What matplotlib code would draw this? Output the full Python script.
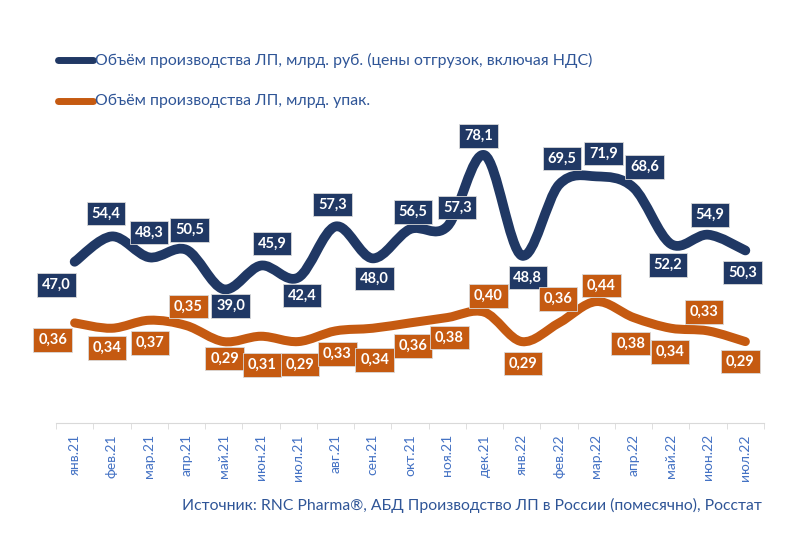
import matplotlib
matplotlib.use('Agg')
import matplotlib.pyplot as plt
from matplotlib.path import Path
from matplotlib.patches import PathPatch
import numpy as np

plt.rcParams['font.family'] = ['Lato', 'Open Sans', 'DejaVu Sans']

# данные
months = ['янв.21', 'фев.21', 'мар.21', 'апр.21', 'май.21', 'июн.21', 'июл.21',
          'авг.21', 'сен.21', 'окт.21', 'ноя.21', 'дек.21', 'янв.22', 'фев.22',
          'мар.22', 'апр.22', 'май.22', 'июн.22', 'июл.22']
rub = [47.0, 54.4, 48.3, 50.5, 39.0, 45.9, 42.4, 57.3, 48.0, 56.5, 57.3, 78.1,
       48.8, 69.5, 71.9, 68.6, 52.2, 54.9, 50.3]
pack = [0.36, 0.34, 0.37, 0.35, 0.29, 0.31, 0.29, 0.33, 0.34, 0.36, 0.38, 0.40,
        0.29, 0.36, 0.44, 0.38, 0.34, 0.33, 0.29]

rub_name = 'Объём производства ЛП, млрд. руб. (цены отгрузок, включая НДС)'
pack_name = 'Объём производства ЛП, млрд. упак.'
source = 'Источник: RNC Pharma®, АБД Производство ЛП в России (помесячно), Росстат'

# смещения подписей (пиксели)
rub_off = [(-18, -23), (-6, 23), (0, 25), (3, 20), (7, -17), (11, 22), (4, -18),
           (-3, 22), (2, -20), (3, 17), (10, 19), (-6, 19), (6, -22), (3, 26),
           (7, 23), (11, 21), (-3, -21), (2, 20), (-3, -22)]
pack_off = [(-22, -17), (-5, -20), (1, -23), (2, 19), (1, -17), (1, -29), (2, -23),
            (2, -23), (2, -32), (3, -23), (2, -20), (4, 16), (1, -22), (-1, 24),
            (5, 16), (-3, -26), (-1, -24), (-4, 19), (-5, -20)]

navy = '#203864'
orange = '#C55A11'
txt_blue = '#2F5597'
tick_blue = '#4472C4'


def smooth_path(xs, ys):
    # сглаживание как в Excel (Catmull-Rom -> Безье)
    p = list(zip(xs, ys))
    p = [p[0]] + p + [p[-1]]
    verts = [p[1]]
    codes = [Path.MOVETO]
    for i in range(1, len(p) - 2):
        p0, p1, p2, p3 = np.array(p[i - 1]), np.array(p[i]), np.array(p[i + 1]), np.array(p[i + 2])
        c1 = p1 + (p2 - p0) / 6
        c2 = p2 - (p3 - p1) / 6
        verts += [tuple(c1), tuple(c2), tuple(p2)]
        codes += [Path.CURVE4] * 3
    return Path(verts, codes)


fig = plt.figure(figsize=(8, 5.43), dpi=100)
ax = fig.add_axes([56 / 800, 1 - 423 / 543, 708 / 800, 343 / 543])
ax2 = ax.twinx()

x = np.arange(len(months))
ax.set_xlim(-0.5, len(months) - 0.5)
ax.set_ylim(0, 100)
ax2.set_ylim(-0.015, 1.27)

ax.add_patch(PathPatch(smooth_path(x, rub), facecolor='none', edgecolor=navy,
                       lw=7, capstyle='round', joinstyle='round', zorder=3))
ax2.add_patch(PathPatch(smooth_path(x, pack), facecolor='none', edgecolor=orange,
                        lw=6.5, capstyle='round', joinstyle='round', zorder=3))

for i, v in enumerate(rub):
    ax.annotate(f'{v:.1f}'.replace('.', ','), (x[i], v), xytext=rub_off[i],
                textcoords='offset pixels', ha='center', va='center',
                color='white', fontsize=10.5, fontweight='bold', zorder=5,
                bbox=dict(boxstyle='square,pad=0.33', fc=navy, ec='#D9D9D9', lw=0.6))
for i, v in enumerate(pack):
    ax2.annotate(f'{v:.2f}'.replace('.', ','), (x[i], v), xytext=pack_off[i],
                 textcoords='offset pixels', ha='center', va='center',
                 color='white', fontsize=10.5, fontweight='bold', zorder=5,
                 bbox=dict(boxstyle='square,pad=0.33', fc=orange, ec='#D9D9D9', lw=0.6))

# оси
for a in (ax, ax2):
    for s in ['top', 'right', 'left']:
        a.spines[s].set_visible(False)
    a.set_yticks([])
ax2.spines['bottom'].set_visible(False)
ax.spines['bottom'].set_color('#D9D9D9')
ax.set_xticks(x)
ax.set_xticklabels(months, rotation=90, fontsize=10, color=tick_blue)
ax.tick_params(axis='x', length=0, pad=8)
ax.set_xticks(np.arange(-0.5, len(months)), minor=True)
ax.tick_params(axis='x', which='minor', length=4, color='#D9D9D9')

# легенда
fig.add_artist(plt.Line2D([58 / 800, 93 / 800], [1 - 60 / 543, 1 - 60 / 543],
                          color=navy, lw=5, solid_capstyle='round'))
fig.add_artist(plt.Line2D([58 / 800, 93 / 800], [1 - 101 / 543, 1 - 101 / 543],
                          color=orange, lw=5, solid_capstyle='round'))
fig.text(95 / 800, 1 - 60 / 543, rub_name, fontsize=11.4, color=txt_blue, va='center')
fig.text(95 / 800, 1 - 101 / 543, pack_name, fontsize=11.4, color=txt_blue, va='center')

fig.text(762 / 800, 1 - 505 / 543, source, fontsize=11.3, color=txt_blue,
         ha='right', va='center')

fig.savefig('out.png', dpi=100)
